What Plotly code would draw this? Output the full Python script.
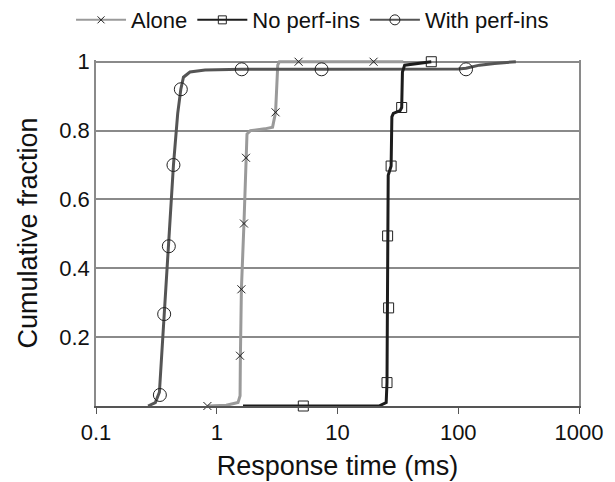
import plotly.graph_objects as go

# ---- data ----
series_names = ["Alone", "No perf-ins", "With perf-ins"]

# Alone: CDF line
alone_line_x = [0.84, 1.2, 1.5, 1.56, 1.57, 1.60, 1.68, 1.746, 1.78, 1.9, 2.5, 2.9, 3.07, 3.2, 3.3, 4.76, 19.9, 35]
alone_line_y = [0.0, 0.002, 0.01, 0.03, 0.146, 0.339, 0.53, 0.721, 0.79, 0.80, 0.805, 0.81, 0.853, 0.99, 1.0, 1.0, 1.0, 1.0]
alone_mark_x = [0.837, 1.558, 1.60, 1.68, 1.746, 3.07, 4.76, 19.9]
alone_mark_y = [0.0, 0.146, 0.339, 0.530, 0.721, 0.853, 1.0, 1.0]

# No perf-ins: CDF line
noperf_line_x = [1.65, 5.21, 22, 25.3, 25.7, 25.9, 26.0, 26.3, 27.8, 28.2, 29, 33, 34.0, 34.5, 36, 45, 59.8]
noperf_line_y = [0.0, 0.0, 0.0, 0.01, 0.068, 0.285, 0.494, 0.67, 0.697, 0.84, 0.85, 0.858, 0.867, 0.97, 0.99, 0.995, 1.0]
noperf_mark_x = [5.21, 25.7, 26.5, 26.0, 27.8, 34.0, 59.8]
noperf_mark_y = [0.0, 0.068, 0.285, 0.494, 0.697, 0.867, 1.0]

# With perf-ins: CDF line
withperf_line_x = [0.27, 0.31, 0.335, 0.367, 0.401, 0.438, 0.475, 0.504, 0.53, 0.6, 0.8, 1.61, 7.38, 60, 100, 116, 150, 200, 300]
withperf_line_y = [0.0, 0.01, 0.04, 0.267, 0.464, 0.70, 0.85, 0.92, 0.955, 0.97, 0.976, 0.978, 0.978, 0.978, 0.979, 0.981, 0.99, 0.995, 1.0]
withperf_mark_x = [0.338, 0.367, 0.401, 0.438, 0.504, 1.61, 7.38, 116]
withperf_mark_y = [0.032, 0.267, 0.464, 0.70, 0.92, 0.978, 0.978, 0.978]

x_tick_vals = [0.1, 1, 10, 100, 1000]
x_tick_text = ["0.1", "1", "10", "100", "1000"]
y_tick_vals = [0.2, 0.4, 0.6, 0.8, 1.0]
y_tick_text = ["0.2", "0.4", "0.6", "0.8", "1"]

# ---- styles ----
line_colors = {"Alone": "#9a9a9a", "No perf-ins": "#1c1c1c", "With perf-ins": "#555555"}
symbols = {"Alone": "x-thin-open", "No perf-ins": "square-open", "With perf-ins": "circle-open"}
msizes = {"Alone": 8, "No perf-ins": 10, "With perf-ins": 13}
legend_msizes = {"Alone": 7, "No perf-ins": 8, "With perf-ins": 10}

data = {
    "Alone": (alone_line_x, alone_line_y, alone_mark_x, alone_mark_y),
    "No perf-ins": (noperf_line_x, noperf_line_y, noperf_mark_x, noperf_mark_y),
    "With perf-ins": (withperf_line_x, withperf_line_y, withperf_mark_x, withperf_mark_y),
}

fig = go.Figure()
font_family = "Liberation Sans, Arial, sans-serif"

for name in ["Alone", "With perf-ins", "No perf-ins"]:
    lx, ly, mx, my = data[name]
    fig.add_trace(go.Scatter(x=lx, y=ly, mode="lines", showlegend=False,
                             line=dict(color=line_colors[name], width=3), hoverinfo="skip"))
for name in ["Alone", "With perf-ins", "No perf-ins"]:
    lx, ly, mx, my = data[name]
    fig.add_trace(go.Scatter(x=mx, y=my, mode="markers", showlegend=False, cliponaxis=False,
                             marker=dict(symbol=symbols[name], size=msizes[name], color="#222222",
                                         line=dict(width=1, color="#222222"))))

for name in series_names:
    fig.add_trace(go.Scatter(x=[None], y=[None], mode="lines+markers", name=name,
                             line=dict(color=line_colors[name], width=2),
                             marker=dict(symbol=symbols[name], size=legend_msizes[name], color="#222222",
                                         line=dict(width=1, color="#222222"))))

fig.update_layout(
    width=615, height=482,
    margin=dict(l=88, r=44, t=52, b=84),
    paper_bgcolor="white", plot_bgcolor="white",
    font=dict(family=font_family, size=22, color="#111111"),
    legend=dict(orientation="h", xref="container", yref="container",
                x=0.1025, xanchor="left", y=0.975, yanchor="middle",
                font=dict(size=22), bgcolor="rgba(0,0,0,0)", itemwidth=50,
                traceorder="normal"),
    xaxis=dict(type="log", range=[-1, 3], tickvals=x_tick_vals, ticktext=x_tick_text,
               showgrid=False, showline=True, linecolor="#555555", linewidth=1.5,
               ticks="outside", ticklen=6, tickcolor="#555555", automargin=False,
               title=dict(text="Response time (ms)", font=dict(size=27), standoff=12),
               zeroline=False),
    yaxis=dict(range=[0, 1.005], tickvals=y_tick_vals, ticktext=y_tick_text,
               showgrid=True, gridcolor="#8a8a8a", gridwidth=1.5,
               showline=True, linecolor="#8a8a8a", linewidth=1.5, mirror=True,
               ticks="", zeroline=False, automargin=False,
               title=dict(text="Cumulative fraction", font=dict(size=27), standoff=14)),
)

fig.write_html("out.html")
